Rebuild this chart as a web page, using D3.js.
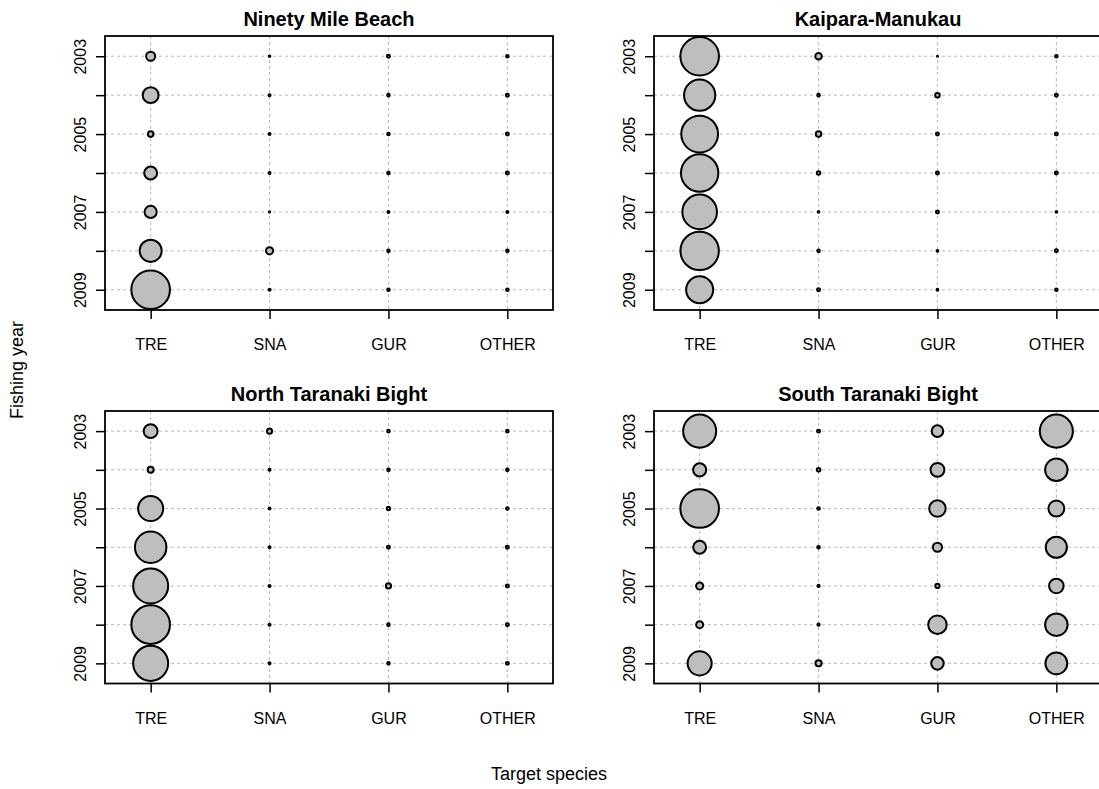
<!DOCTYPE html>
<html>
<head>
<meta charset="utf-8">
<script src="https://cdn.jsdelivr.net/npm/d3@7"></script>
<style>
  html, body { margin: 0; padding: 0; background: #ffffff; }
  svg { display: block; font-family: "Liberation Sans", Arial, Helvetica, sans-serif; }
</style>
</head>
<body>
<svg id="chart" width="1099" height="789"></svg>
<script>
// Fishing years and target species shown in every panel
const years = [2003, 2004, 2005, 2006, 2007, 2008, 2009];
const species = ["TRE", "SNA", "GUR", "OTHER"];
const yearLabels = [2003, 2005, 2007, 2009];
const areas = ["Ninety Mile Beach", "Kaipara-Manukau", "North Taranaki Bight", "South Taranaki Bight"];

// Relative catch (% of the largest cell in each area), rows follow `species`, columns follow `years`
const ninetyMileBeach = [
  [5.6, 17.0, 2.1, 11.2, 9.9, 32.7, 100],
  [0.17, 0.27, 0.27, 0.27, 0.1, 3.4, 0.32],
  [0.6, 0.45, 0.45, 0.45, 0.27, 0.45, 0.45],
  [0.45, 0.6, 0.6, 0.6, 0.27, 0.45, 0.45]
];
const kaiparaManukau = [
  [100, 65.5, 90.9, 93.9, 80.4, 99, 49.1],
  [2.9, 0.45, 2.1, 0.86, 0.17, 0.45, 0.6],
  [0.1, 1.4, 0.6, 0.6, 0.6, 0.22, 0.22],
  [0.45, 0.6, 0.6, 0.6, 0.17, 0.6, 0.45]
];
const northTaranaki = [
  [13.0, 2.4, 42.2, 66.3, 82.3, 100, 82.3],
  [1.7, 0.27, 0.27, 0.27, 0.27, 0.27, 0.27],
  [0.45, 0.45, 0.77, 0.6, 1.8, 0.45, 0.45],
  [0.45, 0.45, 0.45, 0.6, 0.6, 0.6, 0.6]
];
const southTaranaki = [
  [73.2, 11.6, 100, 11.2, 3.4, 3.3, 38.9],
  [0.6, 0.86, 0.45, 0.45, 0.32, 0.32, 2.6],
  [8.9, 13.0, 18.3, 5.6, 1.2, 23.0, 10.5],
  [73.2, 33.9, 17.0, 29.9, 14.2, 33.9, 32.1]
];
const areaValues = [ninetyMileBeach, kaiparaManukau, northTaranaki, southTaranaki];

const svg = d3.select("#chart");

// Panel frames: two columns, two rows
const colLeft = [105, 654];
const panelWidth = 448;
const rowTop = [36, 411];
const rowBottom = [310, 683.5];

areas.forEach((area, i) => {
  const col = i % 2, row = Math.floor(i / 2);
  const left = colLeft[col], right = left + panelWidth;
  const top = rowTop[row], bottom = rowBottom[row];

  const x = d3.scalePoint().domain(species).range([left, right]).padding(0.384);
  const y = d3.scalePoint().domain(years).range([top, bottom]).padding(0.52);
  const maxVal = d3.max(areaValues[i].flat());
  const r = d3.scaleSqrt().domain([0, maxVal]).range([0, 19.3]);

  const g = svg.append("g");

  // dotted grid through every category and year
  g.append("g").selectAll("line").data(species).join("line")
    .attr("x1", d => x(d)).attr("x2", d => x(d))
    .attr("y1", top).attr("y2", bottom)
    .attr("stroke", "#b8b8b8").attr("stroke-width", 1).attr("stroke-dasharray", "3,3");
  g.append("g").selectAll("line").data(years).join("line")
    .attr("x1", left).attr("x2", right)
    .attr("y1", d => y(d)).attr("y2", d => y(d))
    .attr("stroke", "#b8b8b8").attr("stroke-width", 1).attr("stroke-dasharray", "3,3");

  // bubbles
  const cells = [];
  species.forEach((s, si) => years.forEach((yr, yi) => cells.push({ s, yr, v: areaValues[i][si][yi] })));
  g.append("g").selectAll("circle").data(cells).join("circle")
    .attr("cx", d => x(d.s)).attr("cy", d => y(d.yr)).attr("r", d => r(d.v))
    .attr("fill", "#bebebe").attr("stroke", "#000").attr("stroke-width", 2);

  // plot frame
  g.append("rect")
    .attr("x", left).attr("y", top).attr("width", right - left).attr("height", bottom - top)
    .attr("fill", "none").attr("stroke", "#000").attr("stroke-width", 1.8);

  // left axis with rotated year labels
  const yAxis = g.append("g").attr("transform", `translate(${left},0)`)
    .call(d3.axisLeft(y).tickSize(9).tickSizeOuter(0)
      .tickFormat(d => yearLabels.includes(d) ? String(d) : ""));
  yAxis.select(".domain").remove();
  yAxis.selectAll(".tick line").attr("stroke", "#000").attr("stroke-width", 1.5);
  yAxis.selectAll(".tick text")
    .attr("transform", "rotate(-90)")
    .attr("x", 0).attr("y", -19).attr("dy", 0)
    .attr("text-anchor", "middle")
    .attr("font-size", 16).attr("fill", "#000")
    .attr("font-family", "Liberation Sans, Arial, sans-serif");

  // bottom axis with species labels
  const xAxis = g.append("g").attr("transform", `translate(0,${bottom})`)
    .call(d3.axisBottom(x).tickSize(9).tickSizeOuter(0));
  xAxis.select(".domain").remove();
  xAxis.selectAll(".tick line").attr("stroke", "#000").attr("stroke-width", 1.5);
  xAxis.selectAll(".tick text")
    .attr("y", 40).attr("dy", 0)
    .attr("font-size", 16).attr("fill", "#000")
    .attr("font-family", "Liberation Sans, Arial, sans-serif");

  // panel title
  g.append("text")
    .attr("x", (left + right) / 2).attr("y", top - 10)
    .attr("text-anchor", "middle")
    .attr("font-size", 20).attr("font-weight", "bold")
    .text(area);
});

// shared axis titles
svg.append("text")
  .attr("transform", "translate(23,370) rotate(-90)")
  .attr("text-anchor", "middle").attr("font-size", 18)
  .text("Fishing year");
svg.append("text")
  .attr("x", 549).attr("y", 780)
  .attr("text-anchor", "middle").attr("font-size", 18)
  .text("Target species");
</script>
</body>
</html>
